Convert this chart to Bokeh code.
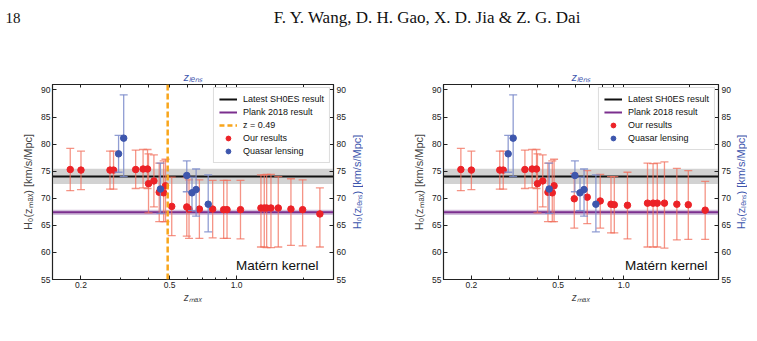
import math
from bokeh.plotting import figure
from bokeh.layouts import column, row
from bokeh.models import (FixedTicker, LogAxis, LinearAxis, BoxAnnotation, Span,
                          Label, Legend, LegendItem, PrintfTickFormatter, ColumnDataSource)
from bokeh.embed import file_html
from bokeh.resources import INLINE

# ---------------- data ----------------
x_ticks = [0.2, 0.5, 1.0]
x_minor = [0.3, 0.4, 0.6, 0.7, 0.8, 0.9, 2.0]
y_ticks = [55, 60, 65, 70, 75, 80, 85, 90]

shoes_h0, shoes_sig = 74.03, 1.42
planck_h0, planck_sig = 67.4, 0.5
z_cut = 0.49

# Quasar lensing (z_lens, H0, lower, upper)
lens_z = [0.295, 0.311, 0.4546, 0.597, 0.630, 0.6575, 0.745]
lens_h0 = [78.2, 81.1, 71.7, 74.2, 71.0, 71.6, 68.9]
lens_lo = [74.8, 74.0, 67.2, 71.2, 67.7, 66.7, 63.8]
lens_hi = [81.6, 89.1, 76.5, 76.9, 73.9, 75.4, 74.3]

# Our results, left panel
left_z = [0.179, 0.20, 0.27, 0.28, 0.352, 0.38, 0.398, 0.402, 0.425, 0.449, 0.47, 0.479,
          0.511, 0.597, 0.611, 0.68, 0.78, 0.874, 0.905, 1.04,
          1.285, 1.33, 1.363, 1.425, 1.537, 1.752, 1.977, 2.363]
left_h0 = [75.3, 75.2, 75.2, 75.2, 75.3, 75.4, 75.4, 72.7, 73.2, 71.1, 71.0, 72.3,
           68.5, 68.4, 68.0, 68.0, 68.0, 67.9, 67.9, 67.9,
           68.2, 68.2, 68.2, 68.2, 68.2, 68.0, 67.9, 67.1]
left_lo = [71.4, 71.6, 71.7, 71.7, 71.8, 71.9, 71.8, 67.3, 68.4, 65.7, 65.7, 65.7,
           63.1, 63.0, 62.6, 62.6, 62.7, 62.6, 62.6, 62.5,
           61.0, 61.0, 60.9, 60.9, 61.0, 61.3, 61.2, 61.0]
left_hi = [79.2, 78.7, 78.7, 78.7, 78.9, 79.0, 79.0, 78.2, 78.0, 76.5, 76.9, 77.2,
           73.9, 73.8, 73.4, 73.4, 73.3, 73.3, 73.3, 73.3,
           74.3, 74.3, 74.4, 74.4, 74.0, 73.6, 73.4, 71.9]

# Our results, right panel
right_z = [0.179, 0.20, 0.27, 0.28, 0.352, 0.38, 0.398, 0.402, 0.425, 0.449, 0.47, 0.479,
           0.593, 0.68, 0.78, 0.874, 0.905, 1.04,
           1.285, 1.363, 1.425, 1.537, 1.752, 1.977, 2.363]
right_h0 = [75.3, 75.2, 75.2, 75.2, 75.3, 75.4, 75.4, 72.7, 73.2, 71.1, 71.0, 72.3,
            69.9, 70.2, 69.5, 68.9, 68.8, 68.7,
            69.1, 69.1, 69.1, 69.1, 68.9, 68.8, 67.8]
right_lo = [71.4, 71.6, 71.7, 71.7, 71.8, 71.9, 71.8, 67.3, 68.4, 65.7, 65.7, 65.7,
            64.5, 65.3, 64.5, 63.6, 63.6, 62.5,
            61.0, 61.0, 61.0, 60.8, 62.3, 62.4, 62.4]
right_hi = [79.2, 78.7, 78.7, 78.7, 78.9, 79.0, 79.0, 78.2, 78.0, 76.5, 76.9, 77.2,
            74.6, 75.1, 74.4, 74.0, 74.0, 74.8,
            76.5, 76.4, 76.5, 76.7, 75.5, 75.1, 73.1]

RED = "#ec2227"
RED_ERR = "#f2705e"
BLUE = "#3d56ad"
BLUE_ERR = "#7d8ccb"
PURPLE = "#7b2f8e"
ORANGE = "#f8a51b"
FONT = "Liberation Sans"
PANEL_H = 281


def style_axis(ax, size="8.5px"):
    ax.major_tick_in = 4
    ax.major_tick_out = 0
    ax.minor_tick_in = 2
    ax.minor_tick_out = 0
    ax.axis_line_color = "#222222"
    ax.major_tick_line_color = "#222222"
    ax.minor_tick_line_color = "#222222"
    ax.major_label_text_font = FONT
    ax.major_label_text_font_size = size
    ax.major_label_text_color = "#222222"
    ax.axis_label_text_font = FONT
    ax.axis_label_text_font_style = "normal"


def side_label(text):
    """Narrow strip holding the rotated right-hand axis title."""
    s = figure(width=14, height=PANEL_H, x_range=(0, 1), y_range=(0, 1),
               toolbar_location=None, output_backend="svg", x_axis_location=None,
               y_axis_location=None, min_border_left=0, min_border_right=0,
               min_border_top=24, min_border_bottom=62)
    s.grid.visible = False
    s.outline_line_color = None
    s.add_layout(Label(x=0.5, y=0.5, text=text, angle=math.pi / 2,
                       text_align="center", text_baseline="middle",
                       text_font=FONT, text_font_size="11px", text_color=BLUE))
    return s


def panel(z, h0, lo, hi, show_cut, w, bl, br):
    p = figure(width=w, height=PANEL_H, x_axis_type="log", x_range=(0.149, 2.72),
               y_range=(55, 91), toolbar_location=None, output_backend="svg",
               min_border_left=bl, min_border_right=br, min_border_top=24,
               min_border_bottom=62, x_axis_label="zₘₐₓ",
               y_axis_label="H₀(zₘₐₓ) [km/s/Mpc]")
    p.grid.visible = False
    p.outline_line_color = "#222222"
    p.outline_line_width = 1.2

    xb = p.xaxis[0]
    xb.ticker = FixedTicker(ticks=x_ticks, minor_ticks=x_minor)
    xb.formatter = PrintfTickFormatter(format="%.1f")
    style_axis(xb)
    xb.major_label_standoff = 2
    xb.axis_label_standoff = 1
    xb.axis_label_text_font_size = "10px"
    xb.axis_label_text_font_style = "italic"

    yl = p.yaxis[0]
    yl.ticker = FixedTicker(ticks=y_ticks, minor_ticks=[])
    style_axis(yl)
    yl.major_label_standoff = 2
    yl.axis_label_standoff = 4
    yl.axis_label_text_font_size = "11px"

    top = LogAxis(ticker=FixedTicker(ticks=[], minor_ticks=x_ticks + x_minor),
                  axis_label="zₗₑₙₛ")
    style_axis(top)
    top.minor_tick_in = 3
    top.major_label_standoff = 0
    top.axis_label_standoff = 2
    top.axis_label_text_color = BLUE
    top.axis_label_text_font_size = "11px"
    top.axis_label_text_font_style = "italic"
    p.add_layout(top, "above")

    right = LinearAxis(ticker=FixedTicker(ticks=y_ticks, minor_ticks=[]))
    style_axis(right)
    right.major_label_standoff = 3
    p.add_layout(right, "right")

    # reference bands and lines
    p.add_layout(BoxAnnotation(bottom=shoes_h0 - shoes_sig, top=shoes_h0 + shoes_sig,
                               fill_color="#b4b4b4", fill_alpha=0.6, line_color=None,
                               level="underlay"))
    p.add_layout(BoxAnnotation(bottom=planck_h0 - planck_sig, top=planck_h0 + planck_sig,
                               fill_color="#a680b8", fill_alpha=0.5, line_color=None,
                               level="underlay"))
    p.add_layout(Span(location=shoes_h0, dimension="width", line_color="#111111",
                      line_width=2, level="underlay"))
    p.add_layout(Span(location=planck_h0, dimension="width", line_color=PURPLE,
                      line_width=2, level="underlay"))

    # zero-length line renderers that only supply legend glyphs
    r_sh = p.line(x=[z_cut, z_cut], y=[shoes_h0, shoes_h0], line_color="#111111",
                  line_width=2)
    r_pl = p.line(x=[z_cut, z_cut], y=[planck_h0, planck_h0], line_color=PURPLE,
                  line_width=2)

    items = [LegendItem(label="Latest SH0ES result", renderers=[r_sh]),
             LegendItem(label="Plank 2018 result", renderers=[r_pl])]

    if show_cut:
        p.add_layout(Span(location=z_cut, dimension="height", line_color=ORANGE,
                          line_width=2.5, line_dash="6 3"))
        r_z = p.line(x=[z_cut, z_cut], y=[shoes_h0, shoes_h0], line_color=ORANGE,
                     line_width=2.5, line_dash="5 3")
        items.append(LegendItem(label="z = 0.49", renderers=[r_z]))

    src = ColumnDataSource(dict(z=z, h0=h0, lo=lo, hi=hi))
    p.segment(x0="z", y0="lo", x1="z", y1="hi", source=src, line_color=RED_ERR,
              line_width=1.3, line_alpha=0.75)
    p.scatter(x="z", y="hi", source=src, marker="dash", size=8, line_color=RED_ERR,
              line_width=1.3, line_alpha=0.75)
    p.scatter(x="z", y="lo", source=src, marker="dash", size=8, line_color=RED_ERR,
              line_width=1.3, line_alpha=0.75)
    r_red = p.scatter(x="z", y="h0", source=src, size=6.5, fill_color=RED,
                      line_color=RED)

    lsrc = ColumnDataSource(dict(z=lens_z, h0=lens_h0, lo=lens_lo, hi=lens_hi))
    p.segment(x0="z", y0="lo", x1="z", y1="hi", source=lsrc, line_color=BLUE_ERR,
              line_width=1.3, line_alpha=0.85)
    p.scatter(x="z", y="hi", source=lsrc, marker="dash", size=8, line_color=BLUE_ERR,
              line_width=1.3, line_alpha=0.85)
    p.scatter(x="z", y="lo", source=lsrc, marker="dash", size=8, line_color=BLUE_ERR,
              line_width=1.3, line_alpha=0.85)
    r_blue = p.scatter(x="z", y="h0", source=lsrc, size=6.5, fill_color=BLUE,
                       line_color=BLUE)

    items.append(LegendItem(label="Our results", renderers=[r_red]))
    items.append(LegendItem(label="Quasar lensing", renderers=[r_blue]))

    leg = Legend(items=items, location="top_right", margin=3, padding=5, spacing=1,
                 label_height=12, glyph_height=12, glyph_width=18, label_standoff=6,
                 label_text_font=FONT, label_text_font_size="9px",
                 label_text_color="#111111", border_line_color="#bbbbbb",
                 border_line_width=1, background_fill_color="white",
                 background_fill_alpha=1.0)
    p.add_layout(leg)

    frame_w = w - bl - br
    p.add_layout(Label(x=frame_w - 15, y=14, x_units="screen", y_units="screen",
                       text="Matérn kernel", text_align="right",
                       text_baseline="alphabetic", text_font=FONT,
                       text_font_size="13.5px", text_color="#111111"))
    return p


left = panel(left_z, left_h0, left_lo, left_hi, True, 349, 52, 16)
right = panel(right_z, right_h0, right_lo, right_hi, False, 370, 80, 11)
left_side = side_label("H₀(zₗₑₙₛ) [km/s/Mpc]")
right_side = side_label("H₀(zₗₑₙₛ) [km/s/Mpc]")

header = figure(width=757, height=60, x_range=(0, 757), y_range=(0, 60),
                toolbar_location=None, output_backend="svg",
                x_axis_location=None, y_axis_location=None, min_border=0)
header.grid.visible = False
header.outline_line_color = None
header.add_layout(Label(x=5, y=43, x_units="screen", y_units="screen", text="18",
                        text_font="Liberation Serif", text_font_size="15px",
                        text_baseline="alphabetic", text_color="#111111"))
header.add_layout(Label(x=427, y=43, x_units="screen", y_units="screen",
                        text="F. Y. Wang, D. H. Gao, X. D. Jia & Z. G. Dai",
                        text_font="Liberation Serif", text_font_size="17px",
                        text_align="center", text_baseline="alphabetic",
                        text_color="#111111"))

layout = column(header, row(left, left_side, right, right_side))
open("out.html", "w").write(file_html(layout, INLINE))
